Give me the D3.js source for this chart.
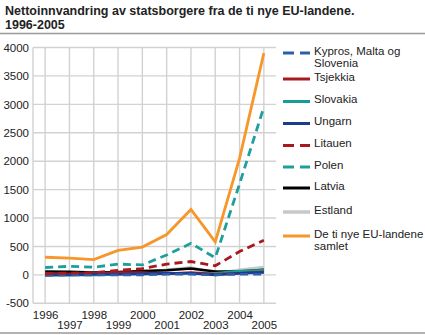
<!DOCTYPE html>
<html><head><meta charset="utf-8">
<script src="https://cdn.jsdelivr.net/npm/d3@7"></script>
<style>
html,body{margin:0;padding:0;background:#fff;}
svg text{font-family:"Liberation Sans",Arial,sans-serif;fill:#222;}
</style></head>
<body><svg id="c" width="425" height="335"></svg>
<script>
const years = [1996,1997,1998,1999,2000,2001,2002,2003,2004,2005];
const yTicks = [-500,0,500,1000,1500,2000,2500,3000,3500,4000];
const seriesNames = ["Kypros, Malta og Slovenia","Tsjekkia","Slovakia","Ungarn","Litauen","Polen","Latvia","Estland","De ti nye EU-landene samlet"];
const kypros   = [-10,0,0,0,0,10,10,0,10,10];
const tsjekkia = [20,20,30,40,40,20,40,10,30,50];
const slovakia = [0,0,0,10,10,20,30,30,70,80];
const ungarn   = [0,0,10,10,20,30,30,0,30,40];
const litauen  = [20,30,40,80,110,190,235,160,410,610];
const polen    = [130,150,135,190,175,350,555,300,1600,2950];
const latvia   = [60,55,40,50,70,80,110,60,60,90];
const estland  = [0,10,5,20,40,80,125,20,80,130];
const samlet   = [310,295,270,430,490,710,1150,580,2050,3900];

const colors = ["#2b5fad","#a8191e","#169e96","#1b3c91","#a8191e","#1e9f9b","#000000","#c8c8c8","#f7962b"];
const dashes = ["8,5",null,null,null,"8,5","8,5",null,null,null];
const widths = [2.5,2.5,2.5,2.5,2.8,2.8,2.5,3.5,2.8];
const data = [kypros,tsjekkia,slovakia,ungarn,litauen,polen,latvia,estland,samlet];

const svg = d3.select("#c");
const L=33,R=276,T=47.5,B=303.3;
const x = d3.scalePoint().domain(years).range([L,R]).padding(0.5);
const y = d3.scaleLinear().domain([-500,4000]).range([B,T]);

// title
svg.append("text").attr("x",5).attr("y",14.5).attr("font-weight","bold").attr("font-size","12.5px").text("Nettoinnvandring av statsborgere fra de ti nye EU-landene.");
svg.append("text").attr("x",5).attr("y",28.5).attr("font-weight","bold").attr("font-size","12.5px").text("1996-2005");
svg.append("line").attr("x1",0).attr("x2",425).attr("y1",33.5).attr("y2",33.5).attr("stroke","#999").attr("stroke-width",1.5);
svg.append("line").attr("x1",0).attr("x2",425).attr("y1",333).attr("y2",333).attr("stroke","#999").attr("stroke-width",1.5);

// grid
const g = svg.append("g");
g.selectAll(".hg").data(yTicks).enter().append("line")
 .attr("x1",L).attr("x2",R).attr("y1",d=>y(d)).attr("y2",d=>y(d))
 .attr("stroke","#d2d2d2").attr("stroke-width",1.4);
g.selectAll(".vg").data(years).enter().append("line")
 .attr("x1",d=>x(d)).attr("x2",d=>x(d)).attr("y1",T).attr("y2",B)
 .attr("stroke","#d2d2d2").attr("stroke-width",1.4);
g.append("line").attr("x1",L).attr("x2",L).attr("y1",T).attr("y2",B).attr("stroke","#d2d2d2").attr("stroke-width",1.4);

// y labels
const yAxis = d3.axisLeft(y).tickValues(yTicks).tickSize(0).tickPadding(4).tickFormat(d=>String(d));
const ya = svg.append("g").attr("transform",`translate(${L},0)`).call(yAxis);
ya.select(".domain").remove();
ya.selectAll("text").attr("font-size","11.5px").attr("fill","#222").attr("font-family","Liberation Sans");

// x labels
const xAxis = d3.axisBottom(x).tickSize(0).tickFormat(d=>String(d));
const xa = svg.append("g").attr("transform",`translate(0,${B})`).call(xAxis);
xa.select(".domain").remove();
xa.selectAll("text").attr("font-size","11.5px").attr("fill","#222").attr("font-family","Liberation Sans")
  .attr("y",(d,i)=> i%2===0 ? 7.5 : 18).attr("dy","0.71em");

// lines
const line = d3.line().x((d,i)=>x(years[i])).y(d=>y(d));
const order = [7,6,2,1,3,0,4,5,8];
order.forEach(k=>{
  svg.append("path").datum(data[k]).attr("d",line).attr("fill","none")
   .attr("stroke",colors[k]).attr("stroke-width",widths[k])
   .attr("stroke-dasharray",dashes[k]).attr("stroke-linejoin","miter");
});

// legend
const legY = [53,79,101.5,123.5,145.5,167,188,212,236];
const leg = svg.append("g");
seriesNames.forEach((n,k)=>{
  leg.append("line").attr("x1",283).attr("x2",310).attr("y1",legY[k]).attr("y2",legY[k])
    .attr("stroke",colors[k]).attr("stroke-width",k===7?3.5:3)
    .attr("stroke-dasharray",dashes[k]?"11,6":null);
  let lines;
  if(k===0) lines=["Kypros, Malta og","Slovenia"];
  else if(k===8) lines=["De ti nye EU-landene","samlet"];
  else lines=[n];
  lines.forEach((s,j)=>{
    leg.append("text").attr("x",314).attr("y",legY[k]-2.5+j*12.3).attr("dy","0.35em")
      .attr("font-size","11.5px").text(s);
  });
});
</script></body></html>
